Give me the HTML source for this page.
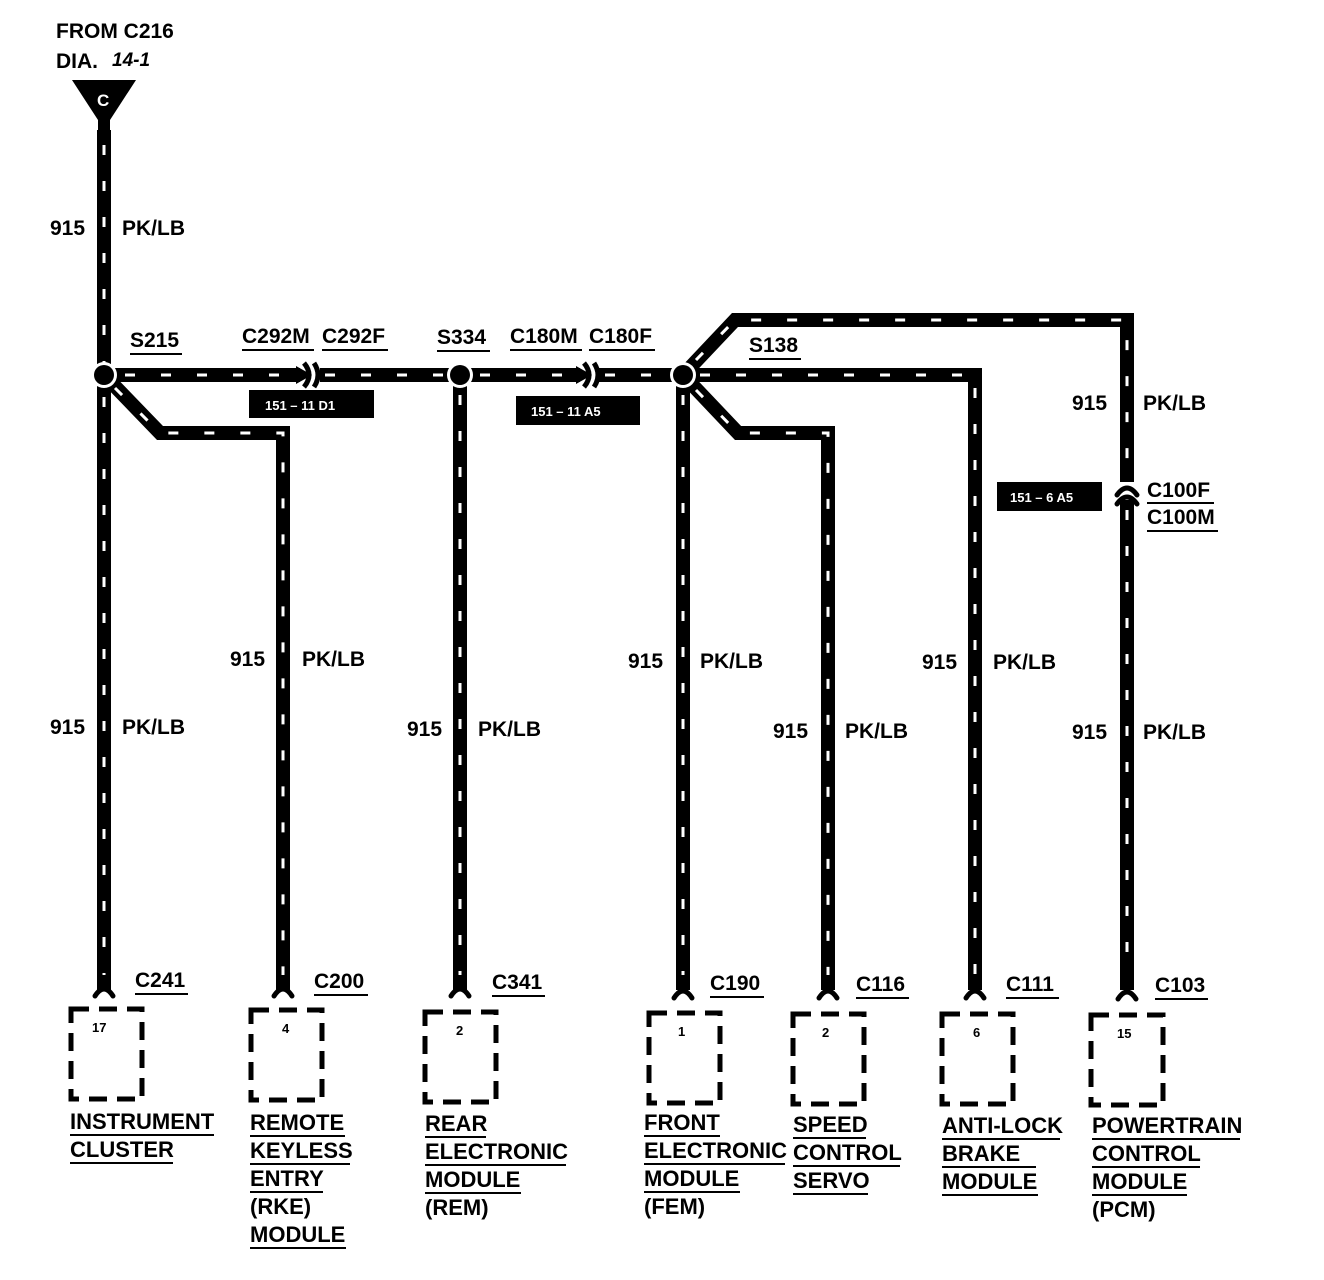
<!DOCTYPE html>
<html><head><meta charset="utf-8"><style>
html,body{margin:0;padding:0;background:#fff;}
svg{display:block}
text{font-family:"Liberation Sans",Arial,sans-serif;font-weight:bold;fill:#000;}
.w{fill:none;stroke:#000;stroke-width:14;stroke-linejoin:miter}
.d{fill:none;stroke:#fff;stroke-width:3;stroke-dasharray:10 26}
.b{fill:none;stroke:#000;stroke-width:5;stroke-dasharray:18 10}
.u{stroke:#000;stroke-width:2}
.f{fill:none;stroke:#000;stroke-width:5;stroke-linecap:round}
</style></head><body>
<svg width="1324" height="1280" viewBox="0 0 1324 1280" xmlns="http://www.w3.org/2000/svg">
<text x="56" y="38" font-size="21">FROM C216</text>
<text x="56" y="68" font-size="21">DIA.</text>
<text x="112" y="66" font-size="19" font-style="italic" font-weight="normal">14-1</text>
<polygon points="72,80 136,80 110,120 110,132 98,132 98,120" fill="#000"/>
<text x="97" y="106" font-size="17" style="fill:#fff">C</text>

<g>
<path class="w" d="M104,130 V990"/>
<path class="w" d="M104,375 L160,433 H283 V990"/>
<path class="w" d="M104,375 H300"/>
<path class="w" d="M320,375 H580"/>
<path class="w" d="M460,375 V990"/>
<path class="w" d="M598,375 H683"/>
<path class="w" d="M683,375 V990"/>
<path class="w" d="M683,375 H975 V990"/>
<path class="w" d="M683,375 L738,433 H828 V990"/>
<path class="w" d="M683,375 L735,320 H1127 V482"/>
<path class="w" d="M1127,500 V990"/>
</g>
<g>
<path class="d" d="M104,145 V975"/>
<path class="d" d="M115,388 L160,433 H283 V975"/>
<path class="d" d="M125,375 H296"/>
<path class="d" d="M325,375 H445"/>
<path class="d" d="M480,375 H575"/>
<path class="d" d="M605,375 H665"/>
<path class="d" d="M460,395 V975"/>
<path class="d" d="M683,395 V975"/>
<path class="d" d="M700,375 H975 V975"/>
<path class="d" d="M696,390 L738,433 H828 V975"/>
<path class="d" d="M696,360 L735,320 H1127 V475"/>
<path class="d" d="M1127,510 V975"/>
</g>
<circle cx="104" cy="375" r="13" fill="#fff"/><circle cx="104" cy="375" r="10" fill="#000"/>
<circle cx="460" cy="375" r="13" fill="#fff"/><circle cx="460" cy="375" r="10" fill="#000"/>
<circle cx="683" cy="375" r="13" fill="#fff"/><circle cx="683" cy="375" r="10" fill="#000"/>
<polygon points="296,366 312,375 296,384" fill="#000"/>
<path d="M304,363 Q314,375 304,387" fill="none" stroke="#000" stroke-width="5"/>
<path d="M314,363 Q322,375 314,387" fill="none" stroke="#000" stroke-width="5"/>
<polygon points="576,366 592,375 576,384" fill="#000"/>
<path d="M584,363 Q594,375 584,387" fill="none" stroke="#000" stroke-width="5"/>
<path d="M594,363 Q602,375 594,387" fill="none" stroke="#000" stroke-width="5"/>
<path d="M1117,495 Q1127,481 1137,495" class="f"/>
<path d="M1117,504 Q1127,490 1137,504" class="f"/>
<path class="f" d="M95,996 Q104,982 113,996"/>
<path class="f" d="M274,996 Q283,982 292,996"/>
<path class="f" d="M451,996 Q460,982 469,996"/>
<path class="f" d="M674,998 Q683,984 692,998"/>
<path class="f" d="M819,998 Q828,984 837,998"/>
<path class="f" d="M966,998 Q975,984 984,998"/>
<path class="f" d="M1118,999 Q1127,985 1136,999"/>

<rect x="249" y="390" width="125" height="28" fill="#000"/><text x="265" y="410" font-size="13" style="fill:#fff" font-weight="normal">151 – 11 D1</text>
<rect x="516" y="396" width="124" height="29" fill="#000"/><text x="531" y="416" font-size="13" style="fill:#fff" font-weight="normal">151 – 11 A5</text>
<rect x="997" y="482" width="105" height="29" fill="#000"/><text x="1010" y="502" font-size="13" style="fill:#fff" font-weight="normal">151 – 6 A5</text>

<g font-size="21">
<text x="130" y="347">S215</text><line class="u" x1="130" y1="354" x2="182" y2="354"/>
<text x="242" y="343">C292M</text><line class="u" x1="242" y1="350" x2="314" y2="350"/>
<text x="322" y="343">C292F</text><line class="u" x1="322" y1="350" x2="388" y2="350"/>
<text x="437" y="344">S334</text><line class="u" x1="437" y1="351" x2="490" y2="351"/>
<text x="510" y="343">C180M</text><line class="u" x1="510" y1="350" x2="582" y2="350"/>
<text x="589" y="343">C180F</text><line class="u" x1="589" y1="350" x2="655" y2="350"/>
<text x="749" y="352">S138</text><line class="u" x1="749" y1="359" x2="801" y2="359"/>
<text x="1147" y="497">C100F</text><line class="u" x1="1147" y1="503" x2="1214" y2="503"/>
<text x="1147" y="524">C100M</text><line class="u" x1="1147" y1="531" x2="1218" y2="531"/>
</g>
<g font-size="21">
<text x="50" y="235">915</text><text x="122" y="235">PK/LB</text>
<text x="50" y="734">915</text><text x="122" y="734">PK/LB</text>
<text x="230" y="666">915</text><text x="302" y="666">PK/LB</text>
<text x="407" y="736">915</text><text x="478" y="736">PK/LB</text>
<text x="628" y="668">915</text><text x="700" y="668">PK/LB</text>
<text x="773" y="738">915</text><text x="845" y="738">PK/LB</text>
<text x="922" y="669">915</text><text x="993" y="669">PK/LB</text>
<text x="1072" y="410">915</text><text x="1143" y="410">PK/LB</text>
<text x="1072" y="739">915</text><text x="1143" y="739">PK/LB</text>
</g>
<g font-size="21">
<text x="135" y="987">C241</text><line class="u" x1="135" y1="994" x2="188" y2="994"/>
<text x="314" y="988">C200</text><line class="u" x1="314" y1="995" x2="368" y2="995"/>
<text x="492" y="989">C341</text><line class="u" x1="492" y1="996" x2="545" y2="996"/>
<text x="710" y="990">C190</text><line class="u" x1="710" y1="997" x2="764" y2="997"/>
<text x="856" y="991">C116</text><line class="u" x1="856" y1="998" x2="909" y2="998"/>
<text x="1006" y="991">C111</text><line class="u" x1="1006" y1="998" x2="1059" y2="998"/>
<text x="1155" y="992">C103</text><line class="u" x1="1155" y1="999" x2="1208" y2="999"/>
</g>
<rect class="b" x="71" y="1009" width="71" height="90"/><text x="92" y="1032" font-size="13" font-weight="normal">17</text>
<rect class="b" x="251" y="1010" width="71" height="90"/><text x="282" y="1033" font-size="13" font-weight="normal">4</text>
<rect class="b" x="425" y="1012" width="71" height="90"/><text x="456" y="1035" font-size="13" font-weight="normal">2</text>
<rect class="b" x="649" y="1013" width="71" height="90"/><text x="678" y="1036" font-size="13" font-weight="normal">1</text>
<rect class="b" x="793" y="1014" width="71" height="90"/><text x="822" y="1037" font-size="13" font-weight="normal">2</text>
<rect class="b" x="942" y="1014" width="71" height="90"/><text x="973" y="1037" font-size="13" font-weight="normal">6</text>
<rect class="b" x="1091" y="1015" width="72" height="90"/><text x="1117" y="1038" font-size="13" font-weight="normal">15</text>

<g font-size="22">
<text x="70" y="1129">INSTRUMENT</text><line class="u" x1="70" y1="1135" x2="214" y2="1135"/>
<text x="70" y="1157">CLUSTER</text><line class="u" x1="70" y1="1163" x2="173" y2="1163"/>
<text x="250" y="1130">REMOTE</text><line class="u" x1="250" y1="1136" x2="345" y2="1136"/>
<text x="250" y="1158">KEYLESS</text><line class="u" x1="250" y1="1164" x2="350" y2="1164"/>
<text x="250" y="1186">ENTRY</text><line class="u" x1="250" y1="1192" x2="323" y2="1192"/>
<text x="250" y="1214">(RKE)</text>
<text x="250" y="1242">MODULE</text><line class="u" x1="250" y1="1248" x2="346" y2="1248"/>
<text x="425" y="1131">REAR</text><line class="u" x1="425" y1="1137" x2="486" y2="1137"/>
<text x="425" y="1159">ELECTRONIC</text><line class="u" x1="425" y1="1165" x2="566" y2="1165"/>
<text x="425" y="1187">MODULE</text><line class="u" x1="425" y1="1193" x2="521" y2="1193"/>
<text x="425" y="1215">(REM)</text>
<text x="644" y="1130">FRONT</text><line class="u" x1="644" y1="1136" x2="720" y2="1136"/>
<text x="644" y="1158">ELECTRONIC</text><line class="u" x1="644" y1="1164" x2="785" y2="1164"/>
<text x="644" y="1186">MODULE</text><line class="u" x1="644" y1="1192" x2="740" y2="1192"/>
<text x="644" y="1214">(FEM)</text>
<text x="793" y="1132">SPEED</text><line class="u" x1="793" y1="1138" x2="866" y2="1138"/>
<text x="793" y="1160">CONTROL</text><line class="u" x1="793" y1="1166" x2="900" y2="1166"/>
<text x="793" y="1188">SERVO</text><line class="u" x1="793" y1="1194" x2="868" y2="1194"/>
<text x="942" y="1133">ANTI-LOCK</text><line class="u" x1="942" y1="1139" x2="1060" y2="1139"/>
<text x="942" y="1161">BRAKE</text><line class="u" x1="942" y1="1167" x2="1036" y2="1167"/>
<text x="942" y="1189">MODULE</text><line class="u" x1="942" y1="1195" x2="1038" y2="1195"/>
<text x="1092" y="1133">POWERTRAIN</text><line class="u" x1="1092" y1="1139" x2="1240" y2="1139"/>
<text x="1092" y="1161">CONTROL</text><line class="u" x1="1092" y1="1167" x2="1200" y2="1167"/>
<text x="1092" y="1189">MODULE</text><line class="u" x1="1092" y1="1195" x2="1187" y2="1195"/>
<text x="1092" y="1217">(PCM)</text>
</g>
</svg>
</body></html>
